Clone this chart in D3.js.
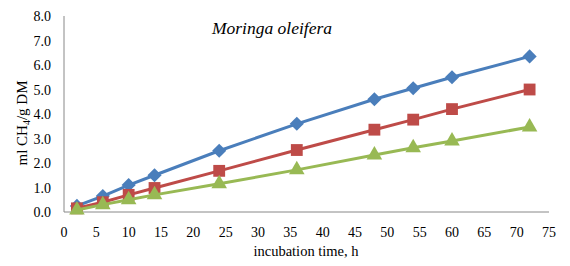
<!DOCTYPE html>
<html><head><meta charset="utf-8">
<script src="https://cdn.jsdelivr.net/npm/d3@7"></script>
<style>body{margin:0;background:#fff}svg{display:block}text{font-family:"Liberation Serif","Times New Roman",serif;fill:#000}</style>
</head><body><svg id="c" width="570" height="266"></svg>
<script>
const hours = [2, 6, 10, 14, 24, 36, 48, 54, 60, 72];
const blueValues = [0.25, 0.65, 1.1, 1.5, 2.5, 3.6, 4.6, 5.05, 5.5, 6.35];
const redValues = [0.15, 0.4, 0.7, 0.98, 1.68, 2.53, 3.36, 3.77, 4.2, 5.0];
const greenValues = [0.08, 0.3, 0.5, 0.7, 1.15, 1.72, 2.33, 2.62, 2.9, 3.47];
const xTicks = [0, 5, 10, 15, 20, 25, 30, 35, 40, 45, 50, 55, 60, 65, 70, 75];
const yTicks = [0, 1, 2, 3, 4, 5, 6, 7, 8];

const svg = d3.select("#c");
const x = d3.scaleLinear().domain([0, 75]).range([64, 549]);
const y = d3.scaleLinear().domain([0, 8]).range([212, 16]);

svg.append("line").attr("x1", 64).attr("x2", 64).attr("y1", y(8)).attr("y2", y(0)).attr("stroke", "#888").attr("stroke-width", 1);
svg.append("line").attr("x1", 64).attr("x2", 549).attr("y1", y(0)).attr("y2", y(0)).attr("stroke", "#888").attr("stroke-width", 1);

svg.selectAll(".yt").data(yTicks).enter().append("text")
  .attr("x", 51).attr("y", d => y(d) + 5).attr("text-anchor", "end").attr("font-size", 14).text(d => d.toFixed(1));
svg.selectAll(".xt").data(xTicks).enter().append("text")
  .attr("x", d => x(d)).attr("y", 237).attr("text-anchor", "middle").attr("font-size", 14).text(d => d);

const series = [
  {vals: blueValues, color: "#4a7ebb", shape: d3.symbolSquare, size: 100, rot: 45},
  {vals: redValues, color: "#be4b48", shape: d3.symbolSquare, size: 140, rot: 0},
  {vals: greenValues, color: "#98b954", shape: d3.symbolTriangle, size: 105, rot: 0}
];
const line = d3.line().x(d => x(d[0])).y(d => y(d[1]));
series.forEach(s => {
  const pts = hours.map((h, i) => [h, s.vals[i]]);
  svg.append("path").attr("d", line(pts)).attr("fill", "none").attr("stroke", s.color).attr("stroke-width", 3);
  svg.selectAll(null).data(pts).enter().append("path")
    .attr("d", d3.symbol().type(s.shape).size(s.size))
    .attr("transform", d => `translate(${x(d[0])},${y(d[1])}) rotate(${s.rot})`)
    .attr("fill", s.color);
});

svg.append("text").attr("x", 272).attr("y", 34).attr("text-anchor", "middle").attr("font-size", 17.5).attr("font-style", "italic").text("Moringa oleifera");
svg.append("text").attr("x", 306).attr("y", 256).attr("text-anchor", "middle").attr("font-size", 14.5).text("incubation time, h");
const yl = svg.append("text").attr("transform", "translate(27,123) rotate(-90)").attr("text-anchor", "middle").attr("font-size", 15);
yl.append("tspan").text("ml CH");
yl.append("tspan").attr("font-size", 10).attr("dy", 3).text("4");
yl.append("tspan").attr("dy", -3).text("/g DM");
</script></body></html>
